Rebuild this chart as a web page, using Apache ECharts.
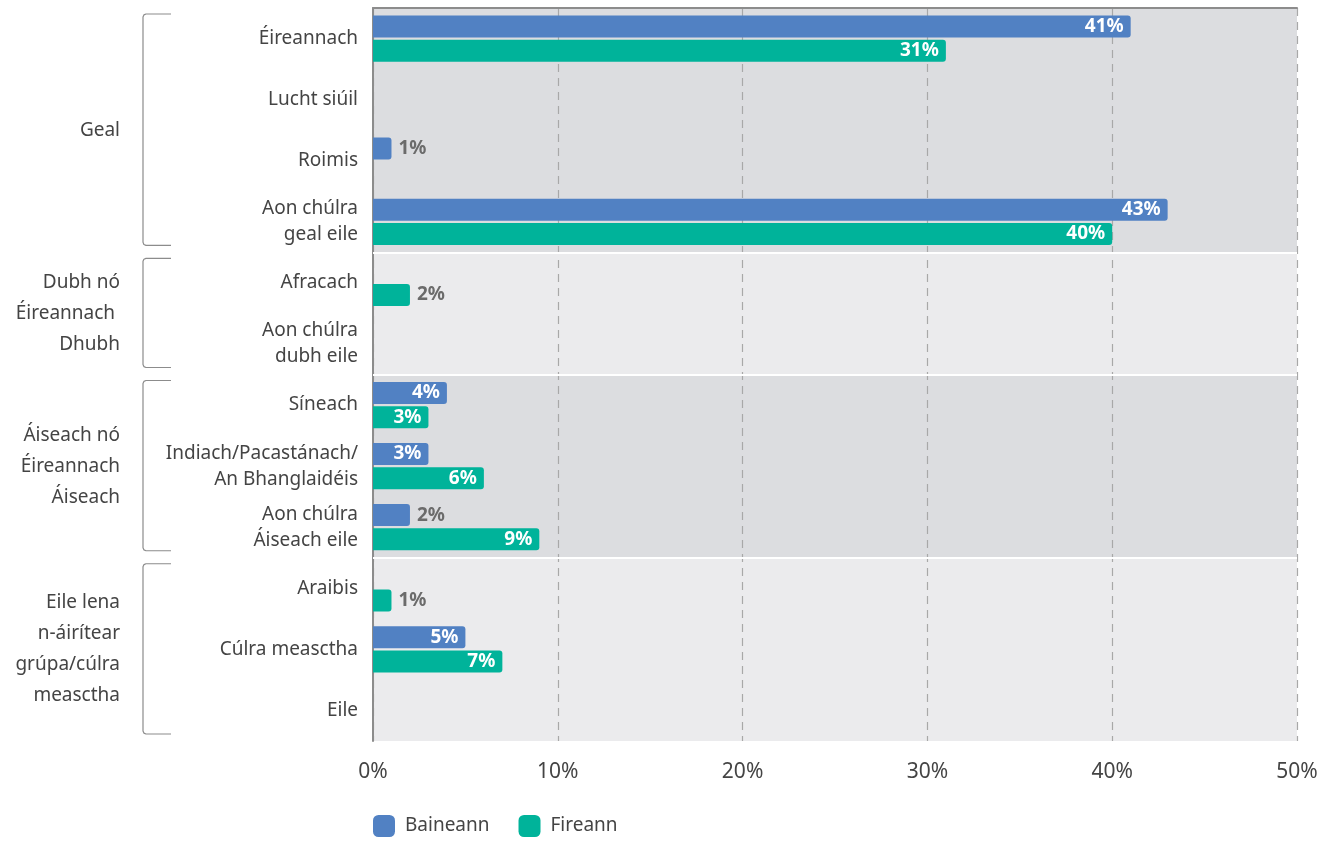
<!DOCTYPE html>
<html>
<head>
<meta charset="utf-8">
<script src="https://cdn.jsdelivr.net/npm/echarts@6/dist/echarts.min.js"></script>
<style>
  html, body { margin: 0; padding: 0; background: #ffffff; }
  #chart { width: 1336px; height: 841px; }
</style>
</head>
<body>
<div id="chart"></div>
<script>
// ---- Data ----
var categories = [
  'Éireannach', 'Lucht siúil', 'Roimis', 'Aon chúlra\ngeal eile',
  'Afracach', 'Aon chúlra\ndubh eile',
  'Síneach', 'Indiach/Pacastánach/\nAn Bhanglaidéis', 'Aon chúlra\nÁiseach eile',
  'Araibis', 'Cúlra measctha', 'Eile'
];
var baineann = [41, null, 1, 43, null, null, 4, 3, 2, null, 5, null];
var fireann  = [31, null, null, 40, 2, null, 3, 6, 9, 1, 7, null];
var groupNames = ['Geal', 'Dubh nó\nÉireannach \nDhubh', 'Áiseach nó\nÉireannach\nÁiseach', 'Eile lena\nn-áirítear\ngrúpa/cúlra\nmeasctha'];
var groupSizes = [4, 2, 3, 3];
var xTicks = [0, 10, 20, 30, 40, 50];
var seriesNames = ['Baineann', 'Fireann'];

// ---- Build ----
var FONT = '"Noto Sans", "Open Sans", sans-serif';
var BLUE = '#5181c3';
var GREEN = '#00b39a';
var bandColors = ['#dcdde0', '#ebebed'];

function toItems(arr) {
  return arr.map(function (v) {
    if (v === null) return '-';
    var inside = v >= 3;
    return {
      value: v,
      label: {
        show: true,
        position: inside ? 'insideRight' : 'right',
        distance: inside ? 7 : 7,
        color: inside ? '#ffffff' : '#6b6b6b',
        fontWeight: 'bold',
        fontSize: 19,
        fontFamily: FONT,
        formatter: '{c}%'
      }
    };
  });
}

var bands = [];
var seps = [];
var acc = 0;
groupSizes.forEach(function (s, i) {
  bands.push([{ yAxis: acc, itemStyle: { color: bandColors[i % 2] } }, { yAxis: acc + s }]);
  acc += s;
  if (i < groupSizes.length - 1) seps.push({ yAxis: acc });
});

var chart = echarts.init(document.getElementById('chart'));
var option = {
  animation: false,
  textStyle: { fontFamily: FONT },
  grid: { left: 373, right: 39, top: 8, bottom: 100, containLabel: false },
  legend: {
    left: 373, top: 815, padding: 0,
    icon: 'roundRect', itemWidth: 22, itemHeight: 22, itemGap: 29,
    textStyle: { fontSize: 19, color: '#444', fontFamily: FONT, padding: [0, 0, 0, 5] },
    data: seriesNames
  },
  xAxis: {
    type: 'value', min: xTicks[0], max: xTicks[xTicks.length - 1], interval: 10,
    z: 1.5,
    axisLine: { show: true, lineStyle: { color: '#8c8c8c', width: 2 } },
    axisTick: { show: false },
    axisLabel: { formatter: '{value}%', fontSize: 21, color: '#444', margin: 21, fontFamily: FONT },
    splitLine: { show: true, lineStyle: { color: '#a8a8a8', type: [8, 6], width: 1.2 } }
  },
  yAxis: [{
    type: 'category', inverse: true, data: categories,
    z: 1.5,
    axisLine: { show: true, lineStyle: { color: '#8c8c8c', width: 2 } },
    axisTick: { show: false },
    axisLabel: { fontSize: 19, color: '#444', margin: 15, lineHeight: 26, fontFamily: FONT, align: 'right' },
    splitLine: { show: false }
  }, {
    type: 'value', min: 0, max: 12, inverse: true, show: false
  }],
  series: [{
    type: 'line', yAxisIndex: 1, data: [], z: 0, silent: true,
    markArea: { silent: true, z: 1, data: bands },
    markLine: {
      silent: true, symbol: 'none', label: { show: false }, z: 1.6,
      lineStyle: { color: '#ffffff', width: 2, type: 'solid' },
      data: seps
    }
  }, {
    name: seriesNames[0], type: 'bar', data: toItems(baineann),
    barWidth: 22, barGap: '10%',
    itemStyle: { color: BLUE, borderRadius: [0, 3, 3, 0] }
  }, {
    name: seriesNames[1], type: 'bar', data: toItems(fireann),
    barWidth: 22, barGap: '10%',
    itemStyle: { color: GREEN, borderRadius: [0, 3, 3, 0] }
  }]
};
chart.setOption(option);

// Group brackets and labels, positioned via the hidden group axis
var graphics = [];
var start = 0;
groupSizes.forEach(function (s, i) {
  var y0 = chart.convertToPixel({ yAxisIndex: 1 }, start) + 6;
  var y1 = chart.convertToPixel({ yAxisIndex: 1 }, start + s) - 7;
  var xL = 143, xR = 171, r = 3;
  graphics.push({
    type: 'polyline',
    shape: { points: [[xR, y0], [xL + r, y0], [xL + 0.9, y0 + 0.9], [xL, y0 + r], [xL, y1 - r], [xL + 0.9, y1 - 0.9], [xL + r, y1], [xR, y1]] },
    style: { fill: null, stroke: '#8c8c8c', lineWidth: 1.2, lineJoin: 'round' },
    silent: true
  });
  var yc = chart.convertToPixel({ yAxisIndex: 1 }, start + s / 2);
  graphics.push({
    type: 'text',
    x: 120, y: yc,
    style: {
      text: groupNames[i], align: 'right', verticalAlign: 'middle',
      fontSize: 19, lineHeight: 31, fill: '#444', fontFamily: FONT
    },
    silent: true
  });
  start += s;
});
chart.setOption({ graphic: graphics });
</script>
</body>
</html>
